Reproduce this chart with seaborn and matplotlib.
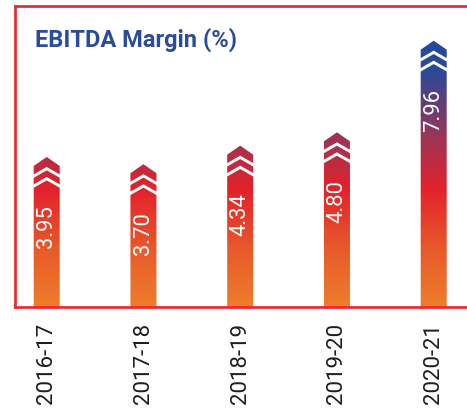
import numpy as np
import pandas as pd
import matplotlib
matplotlib.use("Agg")
import matplotlib.pyplot as plt
import seaborn as sns
from matplotlib.colors import LinearSegmentedColormap
from matplotlib.path import Path
from matplotlib.patches import PathPatch, Polygon

years = ["2016-17", "2017-18", "2018-19", "2019-20", "2020-21"]
margins = [3.95, 3.70, 4.34, 4.80, 7.96]
title = "EBITDA Margin (%)"

sns.set_style("white")
plt.rcParams["font.family"] = ["Roboto", "DejaVu Sans"]

W, H = 467, 412
fig = plt.figure(figsize=(W / 100, H / 100), dpi=100)
base_px, top_px, left_px, right_px = 307, 6, 15.3, 470
ax = fig.add_axes([left_px / W, (H - base_px) / H, (right_px - left_px) / W, (base_px - top_px) / H])

df = pd.DataFrame({"year": years, "margin": margins})
sns.barplot(data=df, x="year", y="margin", ax=ax, width=0.269, color="white",
            errorbar=None, zorder=0)

spacing = 96.75
c0 = 46.7
ax.set_xlim(-(c0 - left_px) / spacing, (right_px - c0) / spacing)
pxu = 29.0
ax.set_ylim(0, (base_px - top_px) / pxu)
ax.set_xlabel("")
ax.set_ylabel("")
ax.set_yticks([])
frame_col = "#e62a30"
for s in ax.spines.values():
    s.set_visible(True)
    s.set_color(frame_col)
    s.set_linewidth(1.95)
    s.set_zorder(5)
ax.tick_params(axis="x", length=0, pad=11.5, labelrotation=90, labelsize=16,
               labelcolor="#1e1e1e")

# pixels per data unit
ppd = ax.transData.transform((0, 1))[1] - ax.transData.transform((0, 0))[1]

stops = [(0.0, "#ee7e2c"), (0.19, "#e85a2a"), (0.39, "#e3222a"),
         (0.57, "#9a3557"), (0.69, "#5a3f7e"), (0.79, "#2a4a98"), (1.0, "#1f4b9c")]
cmap = LinearSegmentedColormap.from_list("grad", stops)

verts_all = []
codes_all = []
bars = [p for p in ax.patches]
tip, corner = 35.5, 26.5
for p in bars:
    x0, w, v = p.get_x(), p.get_width(), p.get_height()
    xc = x0 + w / 2
    u = lambda px: v + px / ppd
    poly = [(x0, 0), (x0 + w, 0), (x0 + w, u(corner)), (xc, u(tip)), (x0, u(corner)), (x0, 0)]
    verts_all += poly
    codes_all += [Path.MOVETO] + [Path.LINETO] * 4 + [Path.CLOSEPOLY]
    p.set_visible(False)
    # white chevron stripes
    for ctop, etop in [(25.5, 17.5), (15.5, 7.5)]:
        th = 3.4
        stripe = [(x0 - 0.01, u(etop)), (xc, u(ctop)), (x0 + w + 0.01, u(etop)),
                  (x0 + w + 0.01, u(etop - th)), (xc, u(ctop - th)), (x0 - 0.01, u(etop - th))]
        ax.add_patch(Polygon(stripe, closed=True, facecolor="white", edgecolor="none", zorder=3))

clip = PathPatch(Path(verts_all, codes_all), transform=ax.transData, facecolor="none", edgecolor="none")
ax.add_patch(clip)
grad = np.linspace(0, 1, 512).reshape(-1, 1)
im = ax.imshow(grad, cmap=cmap, origin="lower", extent=[0, 1, 0, 1], transform=ax.transAxes,
               aspect="auto", zorder=2, interpolation="bilinear")
im.set_clip_path(clip)
ax.set_xlim(-(c0 - left_px) / spacing, (right_px - c0) / spacing)
ax.set_ylim(0, (base_px - top_px) / pxu)

for p in bars:
    xc = p.get_x() + p.get_width() / 2
    v = p.get_height()
    ax.annotate(f"{v:.2f}", xy=(xc, v), xytext=(0, -12.5), textcoords="offset pixels",
                rotation=90, ha="center", va="top", color="white", fontsize=15.8,
                fontweight="normal", zorder=6)

fig.text(35 / W, 1 - 47 / H, title, ha="left", va="baseline", fontsize=17,
         fontweight="bold", color="#2b4b9b")

fig.savefig("out.png", dpi=100)
